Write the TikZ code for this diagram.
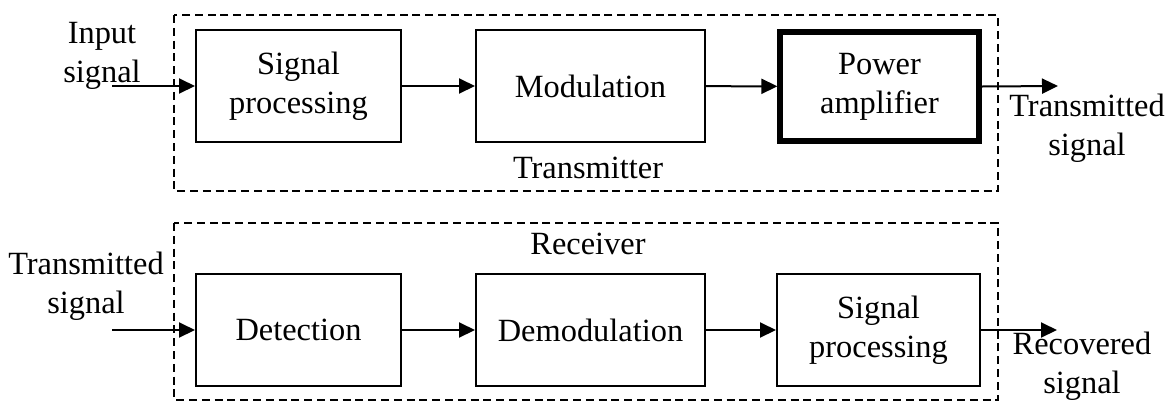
\documentclass[tikz,border=0pt]{standalone}
\usepackage{fontspec}
\setmainfont{Liberation Serif}
\usetikzlibrary{arrows.meta,positioning}

\begin{document}
\begin{tikzpicture}[x=0.5pt,y=-0.5pt,font=\fontsize{16.2}{19.5}\selectfont,
  blk/.style={draw,line width=1pt,align=center,inner sep=0pt},
  blkthick/.style={blk,line width=2.6pt},
  grp/.style={draw,line width=0.75pt,dash pattern=on 4pt off 2.4pt},
  lbl/.style={align=center,inner sep=0pt},
  sig/.style={line width=1pt,-{Triangle[length=8pt,width=7.5pt]}}]
\useasboundingbox (0,0) rectangle (1173,403);
% transmitter
\draw[grp] (174,15) rectangle (998,191);
\node[blk,minimum width=102.5pt,minimum height=56pt] (sp1) at (298.5,86){Signal\\processing};
\node[blk,minimum width=114.5pt,minimum height=56pt] (mod) at (590.5,86){Modulation};
\node[blkthick,minimum width=99.5pt,minimum height=54.5pt] (pa) at (879.5,86.5){Power\\amplifier};
\node[lbl] (txlbl) at (588,168){Transmitter};
\coordinate (in1) at (112,86);
\coordinate (out1) at (1058,86);
\draw[sig] (in1) -- (sp1.west);
\draw[sig] (sp1) -- (mod);
\draw[sig] (mod) -- (pa);
\draw[sig] (pa.east) -- (out1);
\node[lbl] (inlbl) at (102,56){Input\\signal};
\node[lbl] (txout) at (1087,128){Transmitted\\signal};
% receiver
\draw[grp] (174,223) rectangle (998,400);
\node[blk,minimum width=102.5pt,minimum height=56pt] (det) at (298.5,330){Detection};
\node[blk,minimum width=114.5pt,minimum height=56pt] (dem) at (590.5,330){Demodulation};
\node[blk,minimum width=101.5pt,minimum height=56pt] (sp2) at (878.5,330){Signal\\processing};
\node[lbl] (rxlbl) at (588,244){Receiver};
\coordinate (in2) at (112,330);
\coordinate (out2) at (1057,330);
\draw[sig] (in2) -- (det.west);
\draw[sig] (det) -- (dem);
\draw[sig] (dem) -- (sp2);
\draw[sig] (sp2.east) -- (out2);
\node[lbl] (rxin) at (86,286){Transmitted\\signal};
\node[lbl] (rxout) at (1082,366){Recovered\\signal};
\end{tikzpicture}
\end{document}
